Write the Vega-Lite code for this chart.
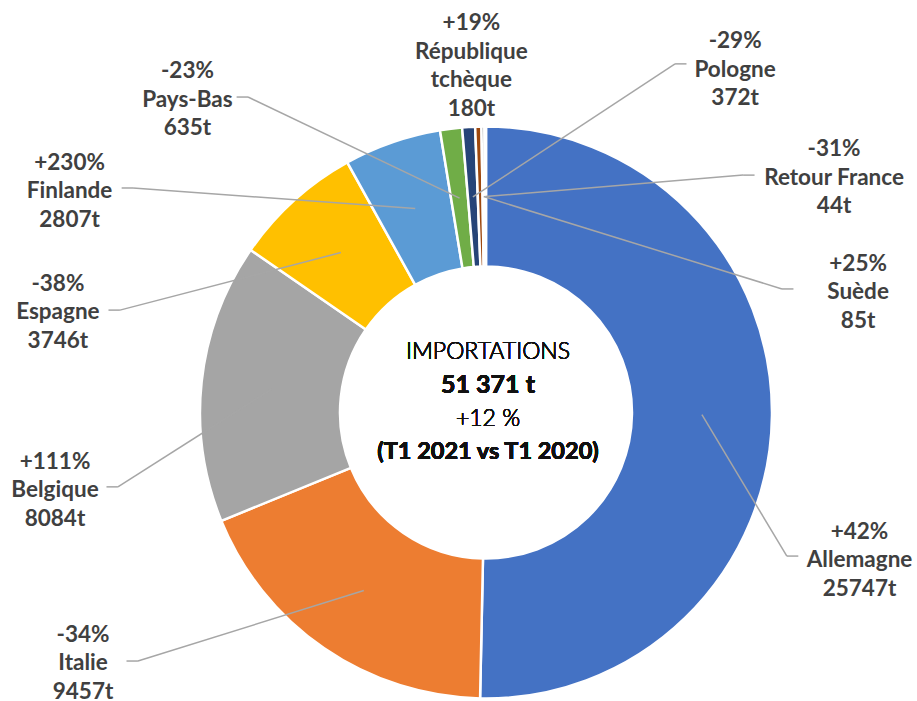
{
  "$schema": "https://vega.github.io/schema/vega-lite/v6.json",
  "width": 917,
  "height": 701,
  "autosize": {"type": "none"},
  "padding": 0,
  "background": "white",
  "config": {"view": {"stroke": null}},
  "data": {"values": [
    {"order": 1, "country": "Allemagne", "value": 25747, "change": "+42%", "lx": 1.306, "ly": -0.516, "ex": 1.052, "ey": -0.502},
    {"order": 2, "country": "Italie", "value": 9457, "change": "-34%", "lx": -1.409, "ly": -0.876, "ex": -1.217, "ey": -0.869},
    {"order": 3, "country": "Belgique", "value": 8084, "change": "+111%", "lx": -1.507, "ly": -0.271, "ex": -1.287, "ey": -0.260},
    {"order": 4, "country": "Espagne", "value": 3746, "change": "-38%", "lx": -1.497, "ly": 0.351, "ex": -1.280, "ey": 0.358},
    {"order": 5, "country": "Finlande", "value": 2807, "change": "+230%", "lx": -1.456, "ly": 0.773, "ex": -1.234, "ey": 0.785},
    {"order": 6, "country": "Pays-Bas", "value": 635, "change": "-23%", "lx": -1.044, "ly": 1.093, "ex": -0.832, "ey": 1.103},
    {"order": 7, "country": "Pologne", "value": 372, "change": "-29%", "lx": 0.871, "ly": 1.198, "ex": 0.661, "ey": 1.219},
    {"order": 8, "country": "République tchèque", "value": 180, "change": "+19%", "lx": -0.051, "ly": 1.212, "ex": null, "ey": null},
    {"order": 9, "country": "Suède", "value": 85, "change": "+25%", "lx": 1.301, "ly": 0.421, "ex": 1.035, "ey": 0.432},
    {"order": 10, "country": "Retour France", "value": 44, "change": "-31%", "lx": 1.217, "ly": 0.820, "ex": 0.899, "ey": 0.830}
  ]},
  "transform": [
    {"window": [{"op": "sum", "field": "value", "as": "cum"}], "sort": [{"field": "order"}], "frame": [null, 0]},
    {"joinaggregate": [{"op": "sum", "field": "value", "as": "total"}]},
    {"calculate": "2*PI*(datum.cum - datum.value/2)/datum.total", "as": "mid"},
    {"calculate": "0.755*sin(datum.mid)", "as": "cx"},
    {"calculate": "0.755*cos(datum.mid)", "as": "cy"},
    {"calculate": "datum.ex == null ? null : datum.ex + (datum.lx > 0 ? 0.04 : -0.04)", "as": "sx"},
    {"calculate": "datum.country === 'République tchèque' ? 4 : 3", "as": "nlines"},
    {"calculate": "datum.ly + (datum.nlines - 1) / 2 * 28.5 / 286", "as": "ltop"},
    {"calculate": "datum.change + '\\n' + (datum.country === 'République tchèque' ? 'République\\ntchèque' : datum.country) + '\\n' + datum.value + 't'", "as": "label"}
  ],
  "layer": [
    {
      "mark": {"type": "arc", "outerRadius": 286, "innerRadius": 146, "stroke": "white", "strokeWidth": 2.5},
      "encoding": {
        "theta": {"field": "value", "type": "quantitative", "stack": true},
        "order": {"field": "order", "type": "quantitative"},
        "color": {"field": "country", "type": "nominal", "legend": null,
          "scale": {"domain": ["Allemagne", "Italie", "Belgique", "Espagne", "Finlande", "Pays-Bas", "Pologne", "République tchèque", "Suède", "Retour France"],
                    "range": ["#4472C4", "#ED7D31", "#A5A5A5", "#FFC000", "#5B9BD5", "#70AD47", "#264478", "#9E480E", "#636363", "#997300"]}},
        "x": {"datum": 0, "type": "quantitative", "scale": {"domain": [-1.6993, 1.507], "nice": false, "zero": false}, "axis": null},
        "y": {"datum": 0, "type": "quantitative", "scale": {"domain": [-1.00874, 1.44231], "nice": false, "zero": false}, "axis": null}
      }
    },
    {
      "transform": [{"filter": "datum.ex != null"}],
      "mark": {"type": "rule", "color": "#A6A6A6", "strokeWidth": 1.5},
      "encoding": {
        "x": {"field": "sx", "type": "quantitative", "scale": {"domain": [-1.6993, 1.507], "nice": false, "zero": false}, "axis": null},
        "x2": {"field": "ex"},
        "y": {"field": "ey", "type": "quantitative", "scale": {"domain": [-1.00874, 1.44231], "nice": false, "zero": false}, "axis": null},
        "y2": {"field": "ey"}
      }
    },
    {
      "transform": [{"filter": "datum.ex != null"}],
      "mark": {"type": "rule", "color": "#A6A6A6", "strokeWidth": 1.5},
      "encoding": {
        "x": {"field": "ex", "type": "quantitative", "scale": {"domain": [-1.6993, 1.507], "nice": false, "zero": false}, "axis": null},
        "x2": {"field": "cx"},
        "y": {"field": "ey", "type": "quantitative", "scale": {"domain": [-1.00874, 1.44231], "nice": false, "zero": false}, "axis": null},
        "y2": {"field": "cy"}
      }
    },
    {
      "mark": {"type": "text", "font": "Lato", "fontWeight": "bold", "fontSize": 22.5, "lineHeight": 28.5, "color": "#404040", "align": "center", "baseline": "middle", "lineBreak": "\n"},
      "encoding": {
        "x": {"field": "lx", "type": "quantitative", "scale": {"domain": [-1.6993, 1.507], "nice": false, "zero": false}, "axis": null},
        "y": {"field": "ltop", "type": "quantitative", "scale": {"domain": [-1.00874, 1.44231], "nice": false, "zero": false}, "axis": null},
        "text": {"field": "label"}
      }
    },
    {
      "mark": {"type": "text", "font": "Lato", "fontWeight": 300, "fontSize": 23, "color": "#111111", "align": "center", "baseline": "middle"},
      "encoding": {
        "x": {"datum": 0.007, "type": "quantitative"},
        "y": {"datum": 0.2115, "type": "quantitative"},
        "text": {"value": "IMPORTATIONS"}
      }
    },
    {
      "mark": {"type": "text", "font": "Lato", "fontWeight": "bold", "fontSize": 25, "color": "#111111", "align": "center", "baseline": "middle"},
      "encoding": {
        "x": {"datum": 0.007, "type": "quantitative"},
        "y": {"datum": 0.0962, "type": "quantitative"},
        "text": {"value": "51 371 t"}
      }
    },
    {
      "mark": {"type": "text", "font": "Lato", "fontWeight": 300, "fontSize": 23, "color": "#111111", "align": "center", "baseline": "middle"},
      "encoding": {
        "x": {"datum": 0.007, "type": "quantitative"},
        "y": {"datum": -0.0227, "type": "quantitative"},
        "text": {"value": "+12 %"}
      }
    },
    {
      "mark": {"type": "text", "font": "Lato", "fontWeight": "bold", "fontSize": 23.5, "color": "#111111", "align": "center", "baseline": "middle"},
      "encoding": {
        "x": {"datum": 0.007, "type": "quantitative"},
        "y": {"datum": -0.138, "type": "quantitative"},
        "text": {"value": "(T1 2021 vs T1 2020)"}
      }
    }
  ]
}
